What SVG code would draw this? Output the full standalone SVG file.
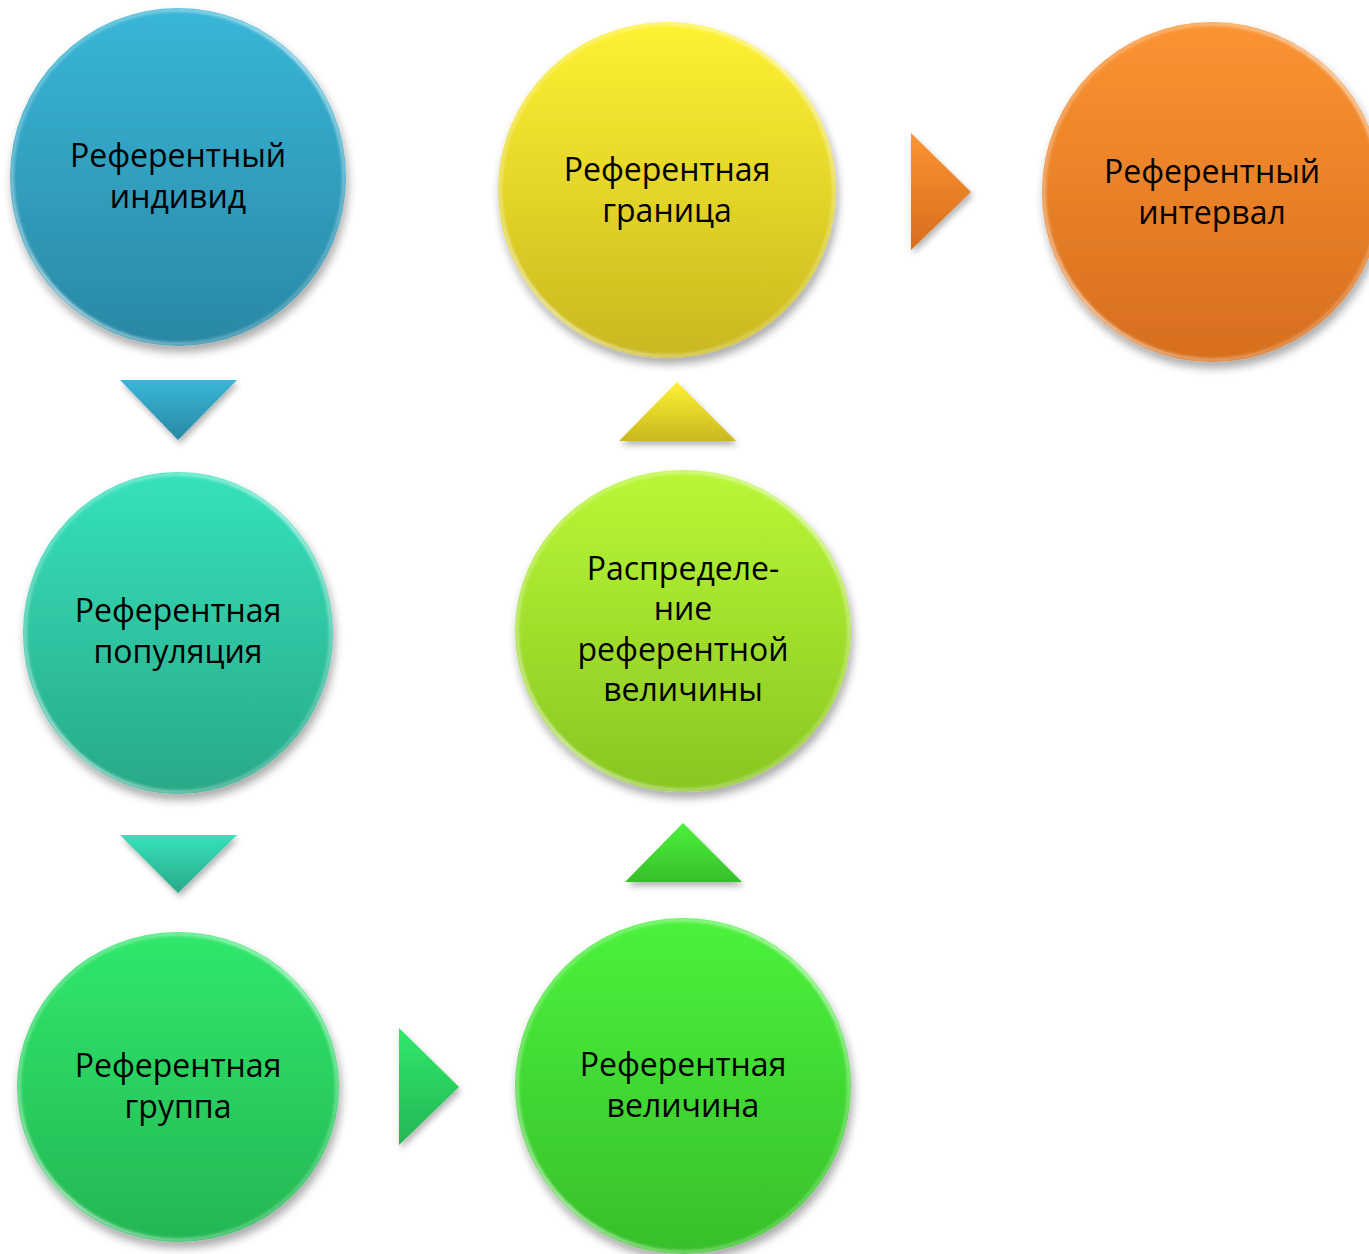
<svg xmlns="http://www.w3.org/2000/svg" width="1369" height="1254" viewBox="0 0 1369 1254">
  <defs>
    <filter id="shadow" x="-20%" y="-20%" width="140%" height="140%">
      <feGaussianBlur in="SourceAlpha" stdDeviation="5"/>
      <feOffset dx="2" dy="6" result="b"/>
      <feComponentTransfer><feFuncA type="linear" slope="0.35"/></feComponentTransfer>
      <feMerge><feMergeNode/><feMergeNode in="SourceGraphic"/></feMerge>
    </filter>
    <filter id="tshadow" x="-30%" y="-30%" width="160%" height="160%">
      <feGaussianBlur in="SourceAlpha" stdDeviation="3"/>
      <feOffset dx="2" dy="4" result="b"/>
      <feComponentTransfer><feFuncA type="linear" slope="0.3"/></feComponentTransfer>
      <feMerge><feMergeNode/><feMergeNode in="SourceGraphic"/></feMerge>
    </filter>
    <filter id="soft" x="-10%" y="-10%" width="120%" height="120%">
      <feGaussianBlur stdDeviation="1.5"/>
    </filter>
    <linearGradient id="gBlue" x1="0" y1="0" x2="0" y2="1">
      <stop offset="0" stop-color="#38b6d8"/><stop offset="1" stop-color="#2a88a4"/>
    </linearGradient>
    <linearGradient id="gTeal" x1="0" y1="0" x2="0" y2="1">
      <stop offset="0" stop-color="#35e2bb"/><stop offset="1" stop-color="#29a888"/>
    </linearGradient>
    <linearGradient id="gGreen" x1="0" y1="0" x2="0" y2="1">
      <stop offset="0" stop-color="#30e86c"/><stop offset="1" stop-color="#24b653"/>
    </linearGradient>
    <linearGradient id="gLime" x1="0" y1="0" x2="0" y2="1">
      <stop offset="0" stop-color="#4cf23c"/><stop offset="1" stop-color="#37bf2a"/>
    </linearGradient>
    <linearGradient id="gYG" x1="0" y1="0" x2="0" y2="1">
      <stop offset="0" stop-color="#baf736"/><stop offset="1" stop-color="#88c622"/>
    </linearGradient>
    <linearGradient id="gYellow" x1="0" y1="0" x2="0" y2="1">
      <stop offset="0" stop-color="#fff232"/><stop offset="1" stop-color="#c9b820"/>
    </linearGradient>
    <linearGradient id="gOrange" x1="0" y1="0" x2="0" y2="1">
      <stop offset="0" stop-color="#fb9432"/><stop offset="1" stop-color="#d66e1e"/>
    </linearGradient>
    <linearGradient id="rim" x1="0" y1="0" x2="1" y2="1">
      <stop offset="0" stop-color="#fff" stop-opacity="0.15"/>
      <stop offset="0.5" stop-color="#fff" stop-opacity="0.75"/>
      <stop offset="1" stop-color="#fff" stop-opacity="0.1"/>
    </linearGradient>
    <style>
      .lbl { font-family: "Open Sans", "Noto Sans", "DejaVu Sans", sans-serif; font-size: 32px; fill: #000; text-anchor: middle; }
      .rim { fill: none; stroke: url(#rim); stroke-width: 3; filter: url(#soft); }
      .node { filter: url(#shadow); }
      .tri { filter: url(#tshadow); }
    </style>
  </defs>

  <!-- connectors between the steps -->
  <g id="connectors">
    <polygon class="tri" points="120,380 237,380 178,440" fill="url(#gBlue)"/>
    <polygon class="tri" points="120,835 237,835 178,893" fill="url(#gTeal)"/>
    <polygon class="tri" points="399,1028 399,1145 459,1087" fill="url(#gGreen)"/>
    <polygon class="tri" points="625,882 742,882 683,823" fill="url(#gLime)"/>
    <polygon class="tri" points="619,441 736,441 677,382" fill="url(#gYellow)"/>
    <polygon class="tri" points="911,133 911,250 971,192" fill="url(#gOrange)"/>
  </g>

  <g id="node-individ">
    <ellipse class="node" cx="178" cy="177" rx="168" ry="169" fill="url(#gBlue)"/>
    <ellipse class="rim" cx="178" cy="177" rx="166" ry="167"/>
    <text class="lbl" x="178" y="167">Референтный</text>
    <text class="lbl" x="178" y="208">индивид</text>
  </g>

  <g id="node-population">
    <ellipse class="node" cx="178" cy="633" rx="155" ry="161" fill="url(#gTeal)"/>
    <ellipse class="rim" cx="178" cy="633" rx="153" ry="159"/>
    <text class="lbl" x="178" y="622">Референтная</text>
    <text class="lbl" x="178" y="663">популяция</text>
  </g>

  <g id="node-group">
    <ellipse class="node" cx="178" cy="1087" rx="161" ry="155" fill="url(#gGreen)"/>
    <ellipse class="rim" cx="178" cy="1087" rx="159" ry="153"/>
    <text class="lbl" x="178" y="1077">Референтная</text>
    <text class="lbl" x="178" y="1118">группа</text>
  </g>

  <g id="node-value">
    <ellipse class="node" cx="683" cy="1086" rx="168" ry="168" fill="url(#gLime)"/>
    <ellipse class="rim" cx="683" cy="1086" rx="166" ry="166"/>
    <text class="lbl" x="683" y="1076">Референтная</text>
    <text class="lbl" x="683" y="1117">величина</text>
  </g>

  <g id="node-distribution">
    <ellipse class="node" cx="683" cy="631" rx="168" ry="161" fill="url(#gYG)"/>
    <ellipse class="rim" cx="683" cy="631" rx="166" ry="159"/>
    <text class="lbl" x="683" y="580">Распределе-</text>
    <text class="lbl" x="683" y="620">ние</text>
    <text class="lbl" x="683" y="661">референтной</text>
    <text class="lbl" x="683" y="701">величины</text>
  </g>

  <g id="node-limit">
    <ellipse class="node" cx="667" cy="190" rx="169" ry="168" fill="url(#gYellow)"/>
    <ellipse class="rim" cx="667" cy="190" rx="167" ry="166"/>
    <text class="lbl" x="667" y="181">Референтная</text>
    <text class="lbl" x="667" y="222">граница</text>
  </g>

  <g id="node-interval">
    <ellipse class="node" cx="1212" cy="192" rx="170" ry="170" fill="url(#gOrange)"/>
    <ellipse class="rim" cx="1212" cy="192" rx="168" ry="168"/>
    <text class="lbl" x="1212" y="183">Референтный</text>
    <text class="lbl" x="1212" y="224">интервал</text>
  </g>
</svg>
